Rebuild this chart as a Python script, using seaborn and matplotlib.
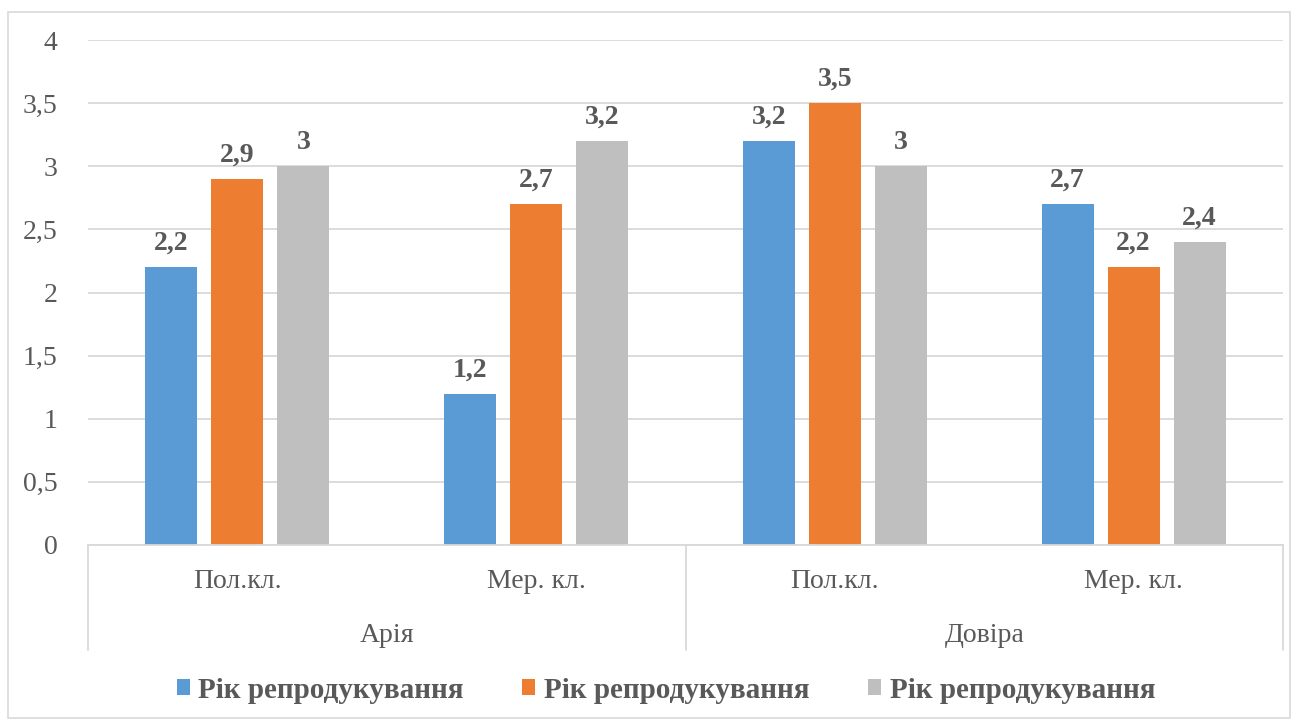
import os
import matplotlib
matplotlib.use("Agg")
import matplotlib.pyplot as plt
import seaborn as sns
import pandas as pd
from matplotlib.patches import Patch, Rectangle
from matplotlib.transforms import blended_transform_factory
from matplotlib.font_manager import FontProperties

# ---- data ----
groups = ["Арія", "Довіра"]
subcats = ["Пол.кл.", "Мер. кл."]
series_names = ["Рік репродукування", "Рік репродукування", "Рік репродукування"]
series1 = [2.2, 1.2, 3.2, 2.7]
series2 = [2.9, 2.7, 3.5, 2.2]
series3 = [3.0, 3.2, 3.0, 2.4]
yticks = [0, 0.5, 1, 1.5, 2, 2.5, 3, 3.5, 4]
colors = ["#5B9BD5", "#ED7D31", "#BFBFBF"]

cat_ids = [f"{g}|{s}" for g in groups for s in subcats]
rows = []
for k, vals in enumerate([series1, series2, series3]):
    for cid, v in zip(cat_ids, vals):
        rows.append({"cat": cid, "value": v, "series": f"s{k}"})
df = pd.DataFrame(rows)

sns.set_theme(style="white")
plt.rcParams["font.family"] = "serif"
plt.rcParams["font.serif"] = ["Liberation Serif", "DejaVu Serif"]

LIB = "/usr/share/fonts/truetype/liberation/"
def fp(size, bold=False):
    path = LIB + ("LiberationSerif-Bold.ttf" if bold else "LiberationSerif-Regular.ttf")
    if os.path.exists(path):
        return FontProperties(fname=path, size=size)
    return FontProperties(family="Liberation Serif", weight="bold" if bold else "normal", size=size)

TEXT = "#595959"
GRID = "#D9D9D9"
FS = 20

fig = plt.figure(figsize=(12.98, 7.22), dpi=100)
ax = fig.add_axes([88/1298, 1-545/722, (1283-88)/1298, (545-40)/722])

sns.barplot(data=df, x="cat", y="value", hue="series", order=cat_ids,
            palette=colors, width=0.663, gap=0.21, saturation=1,
            errorbar=None, legend=False, linewidth=0, ax=ax)

for cont in ax.containers:
    labs = [f"{b.get_height():g}".replace(".", ",") for b in cont]
    ax.bar_label(cont, labels=labs, padding=8, color=TEXT,
                 fontproperties=fp(FS, True))

ax.set_ylim(0, 4)
ax.set_xlim(-0.5, len(cat_ids) - 0.5)
ax.set_yticks(yticks)
ax.set_yticklabels([f"{t:g}".replace(".", ",") for t in yticks],
                   fontproperties=fp(FS), color=TEXT)
ax.tick_params(axis="y", length=0, pad=22)
ax.set_xticks([])
ax.set_xlabel("")
ax.set_ylabel("")
ax.yaxis.grid(True, color=GRID, lw=1.3)
ax.set_axisbelow(True)
for side in ["left", "right", "top"]:
    ax.spines[side].set_visible(False)
ax.spines["bottom"].set_color(GRID)
ax.spines["bottom"].set_linewidth(1.3)

# multi-level category axis
tr = blended_transform_factory(ax.transData, ax.transAxes)
ah = 505.0
for i, cid in enumerate(cat_ids):
    ax.text(i, -(581-545)/ah, cid.split("|")[1], transform=tr, ha="center",
            va="center", color=TEXT, fontproperties=fp(FS))
for j, g in enumerate(groups):
    ax.text(j*2 + 0.5, -(636-545)/ah, g, transform=tr, ha="center",
            va="center", color=TEXT, fontproperties=fp(FS))
for xline in [-0.5, 1.5, 3.5]:
    ax.plot([xline, xline], [0, -(650-545)/ah], transform=tr, color=GRID,
            lw=1.3, clip_on=False)

# legend
handles = [Patch(facecolor=c, edgecolor="none") for c in colors]
fig.legend(handles, series_names, loc="center", bbox_to_anchor=(666/1298, 1-690/722),
           ncol=3, frameon=False, prop=fp(21, True),
           labelcolor=TEXT, handlelength=0.45, handleheight=0.45,
           handletextpad=0.3, columnspacing=2.0)

# outer border
fig.patches.append(Rectangle((8/1298, 1-718/722), (1290-8)/1298, (718-12)/722,
                             transform=fig.transFigure, fill=False,
                             edgecolor=GRID, lw=1.2))

fig.savefig("out.png", dpi=100)
